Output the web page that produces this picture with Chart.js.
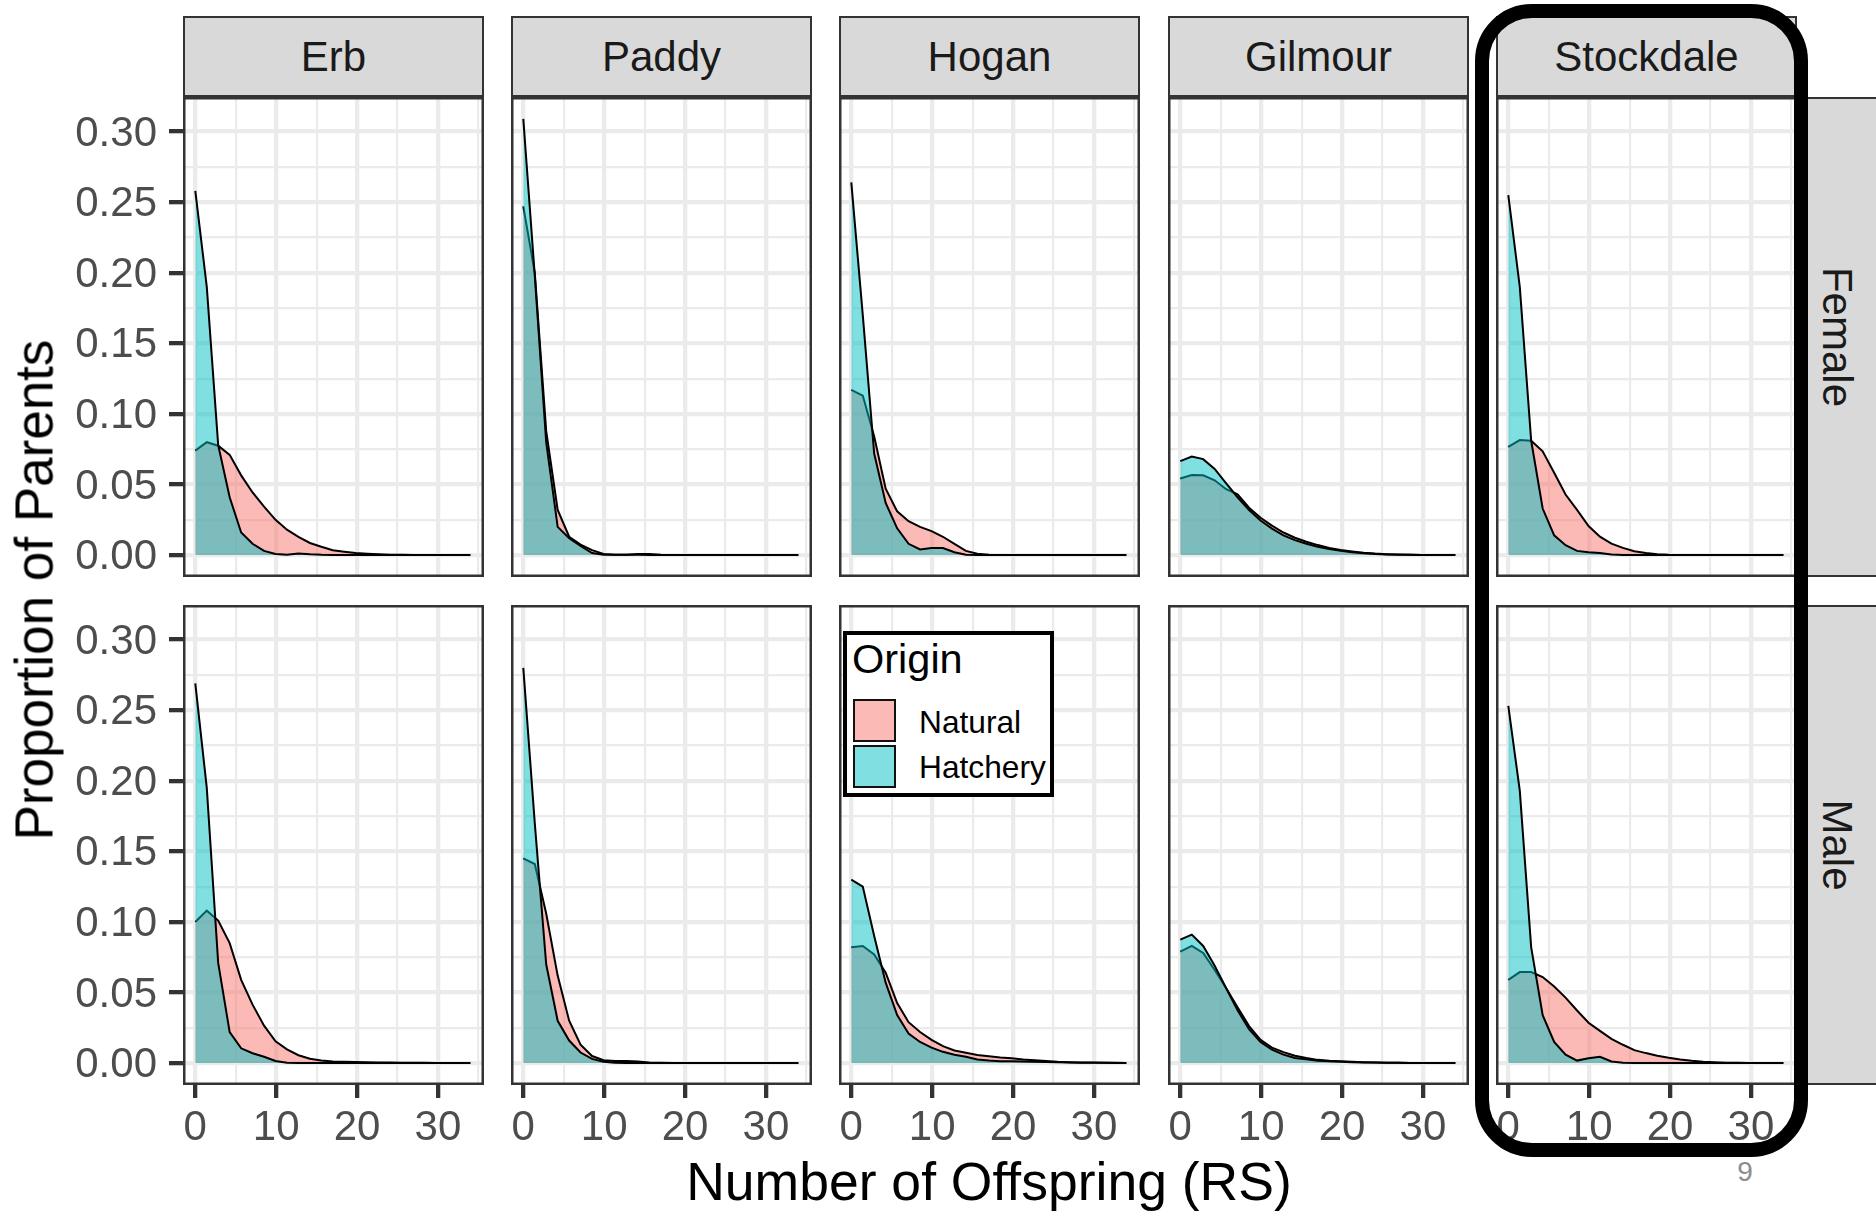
<!DOCTYPE html>
<html>
<head>
<meta charset="utf-8">
<title>Proportion of Parents by Number of Offspring</title>
<script src="https://cdn.jsdelivr.net/npm/chart.js@4.4.0/dist/chart.umd.min.js"></script>
<style>
  html, body { margin: 0; padding: 0; background: #fff; }
  #figure {
    position: relative; width: 1876px; height: 1211px; overflow: hidden;
    font-family: "Liberation Sans", Arial, sans-serif;
  }
  .strip {
    position: absolute; box-sizing: border-box; background: #d9d9d9;
    border: 2.5px solid #333; color: #1a1a1a; font-size: 42px; line-height: 1;
    display: flex; align-items: center; justify-content: center; white-space: nowrap;
  }
  .label { position: absolute; line-height: 1; white-space: nowrap; }
  #legend { position: absolute; box-sizing: border-box; background: #fff; border: 4px solid #000; z-index: 3; }
  .key { position: absolute; box-sizing: border-box; width: 43px; height: 43px; border: 2.5px solid #111; z-index: 4; }
  #highlight {
    position: absolute; box-sizing: border-box; left: 1475px; top: 4px; width: 333px; height: 1153px;
    border: 14px solid #000; border-radius: 57px; z-index: 5;
  }
</style>
</head>
<body>
<div id="figure"></div>
<script>
// grid of offspring counts the densities were evaluated on
const offspring = [0, 1.42, 2.83, 4.25, 5.67, 7.08, 8.5, 9.92, 11.33, 12.75, 14.17, 15.58, 17,
  18.42, 19.83, 21.25, 22.67, 24.08, 25.5, 26.92, 28.33, 29.75, 31.17, 32.58, 34];

const rivers = ['Erb', 'Paddy', 'Hogan', 'Gilmour', 'Stockdale'];
const sexes = ['Female', 'Male'];
const origins = ['Natural', 'Hatchery'];

const xBreaks = [0, 10, 20, 30];
const xMinorBreaks = [5, 15, 25, 35];
const yBreaks = [0, 0.05, 0.10, 0.15, 0.20, 0.25, 0.30];
const yMinorBreaks = [0.025, 0.075, 0.125, 0.175, 0.225, 0.275];

// proportion of parents, one value per offspring count
const erbFemaleNatural = [0.074, 0.080, 0.0775, 0.071, 0.0565, 0.0444, 0.0344, 0.025, 0.018, 0.0129, 0.0086, 0.0059, 0.0034, 0.0024, 0.0015, 0.001, 0.0006, 0.0003, 0.0002, 0.0001, 0, 0, 0, 0, 0];
const erbFemaleHatchery = [0.258, 0.19, 0.078, 0.041, 0.016, 0.008, 0.003, 0.0008, 0.0003, 0.0012, 0.0006, 0.0002, 0, 0, 0, 0, 0, 0, 0, 0, 0, 0, 0, 0, 0];
const erbMaleNatural = [0.100, 0.108, 0.101, 0.085, 0.059, 0.0414, 0.0265, 0.0155, 0.0097, 0.0056, 0.0031, 0.0018, 0.0012, 0.001, 0.0008, 0.0006, 0.0005, 0.0004, 0.0003, 0.0002, 0.0002, 0.0001, 0, 0, 0];
const erbMaleHatchery = [0.269, 0.195, 0.071, 0.022, 0.0105, 0.007, 0.0045, 0.0015, 0.0003, 0.0001, 0, 0, 0, 0, 0, 0, 0, 0, 0, 0, 0, 0, 0, 0, 0];

const paddyFemaleNatural = [0.247, 0.200, 0.088, 0.032, 0.013, 0.0075, 0.0035, 0.0008, 0.0003, 0.0002, 0.0002, 0.0001, 0, 0, 0, 0, 0, 0, 0, 0, 0, 0, 0, 0, 0];
const paddyFemaleHatchery = [0.309, 0.198, 0.080, 0.020, 0.012, 0.0065, 0.0015, 0.0003, 0.0002, 0.0002, 0.0008, 0.0008, 0.0002, 0, 0, 0, 0, 0, 0, 0, 0, 0, 0, 0, 0];
const paddyMaleNatural = [0.145, 0.141, 0.106, 0.062, 0.030, 0.013, 0.005, 0.002, 0.0015, 0.0015, 0.0012, 0.0005, 0.0002, 0, 0, 0, 0, 0, 0, 0, 0, 0, 0, 0, 0];
const paddyMaleHatchery = [0.280, 0.170, 0.070, 0.030, 0.016, 0.0075, 0.003, 0.001, 0.0003, 0, 0, 0, 0, 0, 0, 0, 0, 0, 0, 0, 0, 0, 0, 0, 0];

const hoganFemaleNatural = [0.117, 0.113, 0.084, 0.047, 0.031, 0.024, 0.020, 0.017, 0.013, 0.008, 0.003, 0.001, 0.0003, 0, 0, 0, 0, 0, 0, 0, 0, 0, 0, 0, 0];
const hoganFemaleHatchery = [0.264, 0.170, 0.072, 0.037, 0.019, 0.008, 0.004, 0.005, 0.005, 0.002, 0.0003, 0, 0, 0, 0, 0, 0, 0, 0, 0, 0, 0, 0, 0, 0];
const hoganMaleNatural = [0.082, 0.083, 0.077, 0.064, 0.0425, 0.029, 0.022, 0.0165, 0.012, 0.009, 0.0073, 0.0057, 0.0048, 0.004, 0.0034, 0.0026, 0.002, 0.0015, 0.001, 0.0007, 0.0005, 0.0004, 0.0003, 0.0002, 0.0001];
const hoganMaleHatchery = [0.130, 0.125, 0.090, 0.057, 0.034, 0.021, 0.015, 0.011, 0.008, 0.006, 0.0045, 0.0025, 0.0018, 0.0014, 0.0013, 0.0012, 0.001, 0.0008, 0.0006, 0.0004, 0.0003, 0.0002, 0.0002, 0.0001, 0];

const gilmourFemaleNatural = [0.0543, 0.0568, 0.0565, 0.053, 0.0467, 0.043, 0.0336, 0.0265, 0.0209, 0.016, 0.0123, 0.0095, 0.0071, 0.0051, 0.0036, 0.0026, 0.0017, 0.0011, 0.0007, 0.0004, 0.0002, 0.0001, 0, 0, 0];
const gilmourFemaleHatchery = [0.0666, 0.0698, 0.068, 0.061, 0.0508, 0.041, 0.032, 0.0245, 0.0188, 0.014, 0.0106, 0.008, 0.0059, 0.0043, 0.003, 0.0021, 0.0014, 0.0008, 0.0005, 0.0003, 0.0002, 0.0001, 0, 0, 0];
const gilmourMaleNatural = [0.079, 0.083, 0.078, 0.066, 0.053, 0.0395, 0.0262, 0.0165, 0.011, 0.0078, 0.0052, 0.0036, 0.0023, 0.0017, 0.0013, 0.0009, 0.0006, 0.0004, 0.0003, 0.0002, 0.0001, 0, 0, 0, 0];
const gilmourMaleHatchery = [0.0875, 0.091, 0.083, 0.069, 0.053, 0.0375, 0.024, 0.015, 0.0095, 0.006, 0.0037, 0.0027, 0.0017, 0.0013, 0.001, 0.0007, 0.0005, 0.0004, 0.0003, 0.0002, 0.0001, 0, 0, 0, 0];

const stockdaleFemaleNatural = [0.0766, 0.0815, 0.081, 0.0735, 0.0584, 0.0429, 0.032, 0.0206, 0.0131, 0.0081, 0.0051, 0.0028, 0.0015, 0.0006, 0.0002, 0.0001, 0, 0, 0, 0, 0, 0, 0, 0, 0];
const stockdaleFemaleHatchery = [0.255, 0.19, 0.081, 0.033, 0.014, 0.007, 0.003, 0.002, 0.0015, 0.0005, 0, 0, 0, 0, 0, 0, 0, 0, 0, 0, 0, 0, 0, 0, 0];
const stockdaleMaleNatural = [0.059, 0.0645, 0.0645, 0.061, 0.0542, 0.0464, 0.0373, 0.0286, 0.0228, 0.0172, 0.013, 0.0092, 0.0071, 0.0052, 0.0038, 0.0026, 0.0017, 0.001, 0.0007, 0.0003, 0.0002, 0.0001, 0, 0, 0];
const stockdaleMaleHatchery = [0.253, 0.193, 0.082, 0.034, 0.015, 0.006, 0.0018, 0.0035, 0.0045, 0.0012, 0.0003, 0, 0, 0, 0, 0, 0, 0, 0, 0, 0, 0, 0, 0, 0];

// river -> sex -> [natural, hatchery]
const densities = {
  Erb: { Female: [erbFemaleNatural, erbFemaleHatchery], Male: [erbMaleNatural, erbMaleHatchery] },
  Paddy: { Female: [paddyFemaleNatural, paddyFemaleHatchery], Male: [paddyMaleNatural, paddyMaleHatchery] },
  Hogan: { Female: [hoganFemaleNatural, hoganFemaleHatchery], Male: [hoganMaleNatural, hoganMaleHatchery] },
  Gilmour: { Female: [gilmourFemaleNatural, gilmourFemaleHatchery], Male: [gilmourMaleNatural, gilmourMaleHatchery] },
  Stockdale: { Female: [stockdaleFemaleNatural, stockdaleFemaleHatchery], Male: [stockdaleMaleNatural, stockdaleMaleHatchery] }
};

const fills = { Natural: 'rgba(248, 118, 109, 0.5)', Hatchery: 'rgba(0, 191, 196, 0.5)' };

// panel geometry
const panelW = 301, panelH = 480, pad = 6, xAxisH = 70;
const colLeft = [183, 511, 839, 1168, 1496];
const rowTop = [97, 605];
const fontFamily = '"Liberation Sans", Arial, sans-serif';

Chart.defaults.font.family = fontFamily;

const figure = document.getElementById('figure');

const isMajor = (v, breaks) => breaks.some(b => Math.abs(b - v) < 1e-9);

// dark frame around each panel, drawn over the data like ggplot's panel border
const panelFrame = {
  id: 'panelFrame',
  afterDraw(chart) {
    const { ctx, chartArea: a } = chart;
    ctx.save();
    ctx.strokeStyle = '#333333';
    ctx.lineWidth = 2.5;
    ctx.strokeRect(a.left + 1.25, a.top + 1.25, a.right - a.left - 2.5, a.bottom - a.top - 2.5);
    ctx.restore();
  }
};

function addDiv(cls, text, css) {
  const el = document.createElement('div');
  el.className = cls;
  if (text !== null) el.textContent = text;
  el.style.cssText = css;
  figure.appendChild(el);
  return el;
}

function makePanel(col, row) {
  const [natural, hatchery] = densities[rivers[col]][sexes[row]];
  const showY = col === 0;
  const showX = row === 1;

  const left = showY ? 0 : colLeft[col] - pad;
  const top = rowTop[row] - pad;
  const width = colLeft[col] + panelW + pad - left;
  const height = rowTop[row] + panelH + (showX ? xAxisH : pad) - top;

  const canvas = document.createElement('canvas');
  canvas.width = width;
  canvas.height = height;
  canvas.style.cssText = `position:absolute;left:${left}px;top:${top}px;width:${width}px;height:${height}px;`;
  figure.appendChild(canvas);

  const series = (values, origin, order) => ({
    label: origin,
    data: values.map((y, i) => ({ x: offspring[i], y })),
    order,
    borderColor: '#000',
    borderWidth: 2,
    backgroundColor: fills[origin],
    fill: 'origin',
    pointRadius: 0,
    tension: 0
  });

  const tickFont = { size: 42, family: fontFamily };

  new Chart(canvas, {
    type: 'line',
    data: {
      // natural drawn first, hatchery laid over it
      datasets: [series(hatchery, 'Hatchery', 0), series(natural, 'Natural', 1)]
    },
    options: {
      responsive: false,
      animation: false,
      events: [],
      layout: { padding: { left: showY ? 0 : pad, right: pad, top: pad, bottom: showX ? 0 : pad } },
      plugins: { legend: { display: false }, tooltip: { enabled: false } },
      scales: {
        x: {
          type: 'linear',
          bounds: 'data',
          min: -1.52,
          max: 35.69,
          afterBuildTicks: s => { s.ticks = [...xBreaks, ...xMinorBreaks].sort((a, b) => a - b).map(v => ({ value: v })); },
          afterFit: s => { s.height = showX ? xAxisH : 0; s.paddingLeft = 0; s.paddingRight = 0; },
          border: { display: false },
          grid: {
            color: '#ebebeb',
            lineWidth: c => (c.tick && isMajor(c.tick.value, xBreaks) ? 4.3 : 2.2),
            drawTicks: showX,
            tickLength: 13,
            tickWidth: 4.3,
            tickColor: c => (c.tick && isMajor(c.tick.value, xBreaks) ? '#333333' : 'rgba(0,0,0,0)')
          },
          ticks: {
            display: showX,
            autoSkip: false,
            maxRotation: 0,
            minRotation: 0,
            padding: 5,
            color: '#4d4d4d',
            font: tickFont,
            callback: v => (isMajor(v, xBreaks) ? String(v) : '')
          }
        },
        y: {
          type: 'linear',
          bounds: 'data',
          min: -0.0155,
          max: 0.3245,
          afterBuildTicks: s => { s.ticks = [...yBreaks, ...yMinorBreaks].sort((a, b) => a - b).map(v => ({ value: v })); },
          afterFit: s => { s.width = showY ? colLeft[0] : 0; s.paddingTop = 0; s.paddingBottom = 0; },
          border: { display: false },
          grid: {
            color: '#ebebeb',
            lineWidth: c => (c.tick && isMajor(c.tick.value, yBreaks) ? 4.3 : 2.2),
            drawTicks: showY,
            tickLength: 14,
            tickWidth: 4.3,
            tickColor: c => (c.tick && isMajor(c.tick.value, yBreaks) ? '#333333' : 'rgba(0,0,0,0)')
          },
          ticks: {
            display: showY,
            autoSkip: false,
            padding: 12,
            labelOffset: 2.5,
            color: '#4d4d4d',
            font: tickFont,
            callback: v => (isMajor(v, yBreaks) ? v.toFixed(2) : '')
          }
        }
      }
    },
    plugins: [panelFrame]
  });
}

// facet strips: rivers across the top, sex down the right side
rivers.forEach((river, col) => {
  addDiv('strip', river, `left:${colLeft[col]}px;top:16px;width:${panelW}px;height:81px;`);
});
sexes.forEach((sex, row) => {
  addDiv('strip', null, `left:1806px;top:${rowTop[row]}px;width:100px;height:${panelH}px;`);
  addDiv('label', sex, `left:1837px;top:${rowTop[row] + panelH / 2}px;font-size:42px;color:#1a1a1a;transform:translate(-50%,-50%) rotate(90deg);z-index:2;`);
});

for (let row = 0; row < sexes.length; row++) {
  for (let col = 0; col < rivers.length; col++) makePanel(col, row);
}

// axis titles
addDiv('label', 'Number of Offspring (RS)', 'left:989px;top:1155px;font-size:53.5px;color:#000;transform:translateX(-50%);');
addDiv('label', 'Proportion of Parents', 'left:34px;top:590px;font-size:53px;color:#000;transform:translate(-50%,-50%) rotate(-90deg);');

// legend for the fill colours, placed inside the Hogan / Male panel
addDiv('', null, 'left:843px;top:631px;width:211px;height:166px;').id = 'legend';
addDiv('label', 'Origin', 'left:852px;top:638px;font-size:41.5px;color:#000;z-index:4;');
origins.forEach((origin, i) => {
  addDiv('key', null, `left:853px;top:${699 + i * 46}px;background:${fills[origin]};`);
  addDiv('label', origin, `left:919px;top:${707 + i * 45}px;font-size:31.7px;color:#000;z-index:4;`);
});

// highlight around the Stockdale column and the slide number
addDiv('', null, '').id = 'highlight';
addDiv('label', '9', 'left:1745px;top:1172px;font-size:28px;color:#8c8c8c;transform:translate(-50%,-50%);');
</script>
</body>
</html>
